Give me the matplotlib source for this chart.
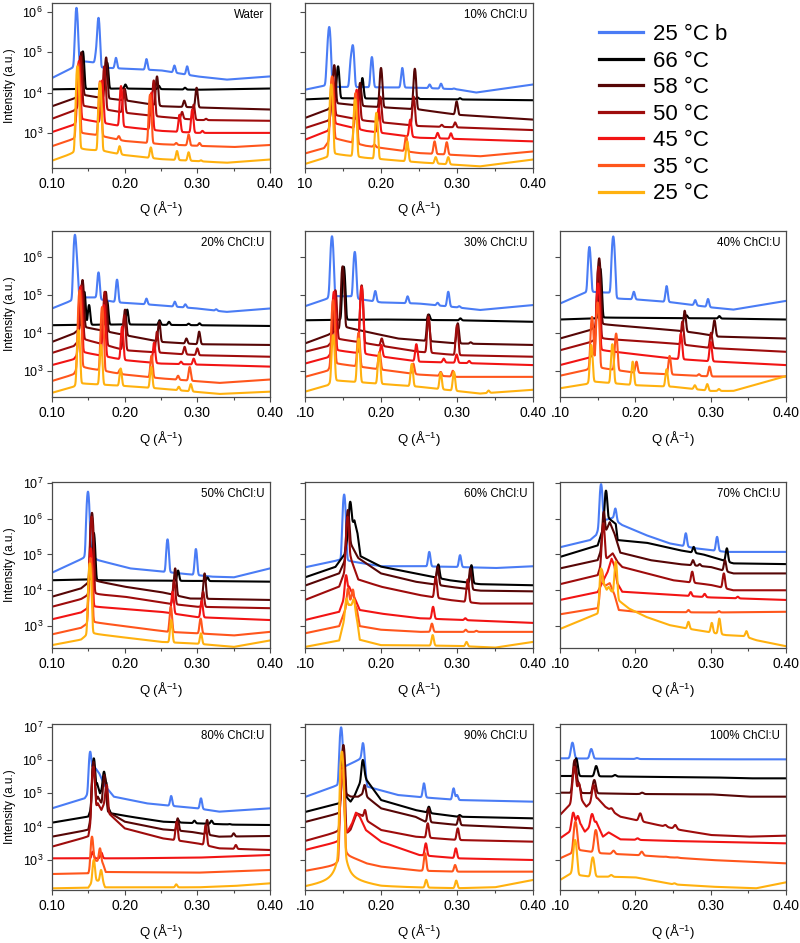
import numpy as np
import matplotlib
matplotlib.use("Agg")
import matplotlib.pyplot as plt
from matplotlib.lines import Line2D

plt.rcParams["font.family"] = ["Liberation Sans", "DejaVu Sans"]
plt.rcParams["mathtext.fontset"] = "custom"
plt.rcParams["mathtext.rm"] = "Liberation Sans"
plt.rcParams["mathtext.it"] = "Liberation Sans:italic"
plt.rcParams["mathtext.bf"] = "Liberation Sans:bold"

# series (top to bottom in every panel)
temps = ["25 °C b", "66 °C", "58 °C", "50 °C", "45 °C", "35 °C", "25 °C"]
colors = ["#4a7cf5", "#000000", "#560606", "#9e0c0c", "#f21414", "#ff561c", "#ffb10f"]

panel_names = ["Water", "10% ChCl:U", "20% ChCl:U", "30% ChCl:U", "40% ChCl:U", "50% ChCl:U",
               "60% ChCl:U", "70% ChCl:U", "80% ChCl:U", "90% ChCl:U", "100% ChCl:U"]

# baselines: (Q, log10 intensity) anchors; peaks: (Q, log10 peak top)
water_base = [
    [(0.10, 4.36), (0.128, 4.61), (0.133, 4.72), (0.14, 4.78), (0.16, 4.74), (0.166, 4.62), (0.25, 4.55), (0.30, 4.40), (0.34, 4.32), (0.40, 4.40)],
    [(0.10, 4.08), (0.20, 4.10), (0.30, 4.07), (0.40, 4.10)],
    [(0.10, 3.66), (0.13, 3.85), (0.14, 3.95), (0.16, 3.89), (0.207, 3.79), (0.252, 3.66), (0.32, 3.62), (0.40, 3.58)],
    [(0.10, 3.35), (0.13, 3.55), (0.139, 3.68), (0.16, 3.62), (0.20, 3.50), (0.25, 3.40), (0.30, 3.32), (0.40, 3.30)],
    [(0.10, 3.02), (0.13, 3.20), (0.138, 3.35), (0.16, 3.28), (0.20, 3.15), (0.25, 3.05), (0.30, 3.00), (0.40, 3.00)],
    [(0.10, 2.67), (0.13, 2.85), (0.137, 3.00), (0.16, 2.95), (0.20, 2.80), (0.25, 2.72), (0.30, 2.68), (0.35, 2.65), (0.40, 2.70)],
    [(0.10, 2.31), (0.13, 2.50), (0.136, 2.60), (0.17, 2.55), (0.20, 2.45), (0.25, 2.35), (0.30, 2.30), (0.34, 2.26), (0.40, 2.34)],
]
water_peaks = [
    [(0.1337, 6.10), (0.161, 5.00), (0.164, 5.85), (0.188, 4.86), (0.230, 4.83), (0.2685, 4.67), (0.282, 4.45), (0.286, 4.65)],
    [(0.1425, 5.02), (0.176, 4.74), (0.201, 4.20), (0.247, 4.17), (0.283, 4.12)],
    [(0.1405, 5.00), (0.1745, 4.87), (0.200, 4.10), (0.2445, 4.40), (0.282, 3.80), (0.299, 4.12)],
    [(0.139, 4.90), (0.172, 4.65), (0.199, 4.07), (0.240, 4.30), (0.279, 3.52), (0.295, 3.70), (0.312, 3.35)],
    [(0.137, 4.78), (0.169, 4.30), (0.195, 4.16), (0.237, 4.00), (0.2755, 3.45), (0.293, 3.58), (0.307, 3.05)],
    [(0.136, 4.70), (0.166, 4.28), (0.192, 2.92), (0.235, 3.95), (0.271, 2.75), (0.288, 2.96), (0.303, 2.75)],
    [(0.135, 4.65), (0.166, 4.24), (0.193, 2.67), (0.236, 2.64), (0.272, 2.55), (0.288, 2.52), (0.305, 2.32)],
]

chcl10_base = [
    [(0.10, 4.07), (0.126, 4.17), (0.135, 4.14), (0.25, 4.12), (0.30, 4.08), (0.325, 4.00), (0.40, 4.20)],
    [(0.10, 3.83), (0.14, 3.86), (0.20, 3.85), (0.30, 3.83), (0.40, 3.81)],
    [(0.10, 3.37), (0.13, 3.58), (0.139, 3.74), (0.18, 3.66), (0.25, 3.58), (0.30, 3.45), (0.40, 3.33)],
    [(0.10, 3.12), (0.13, 3.30), (0.137, 3.45), (0.18, 3.30), (0.25, 3.17), (0.40, 3.07)],
    [(0.10, 2.83), (0.13, 3.05), (0.136, 3.25), (0.18, 3.05), (0.25, 2.88), (0.40, 2.79)],
    [(0.10, 2.49), (0.125, 2.62), (0.135, 2.88), (0.18, 2.68), (0.25, 2.50), (0.33, 2.42), (0.40, 2.54)],
    [(0.10, 2.23), (0.13, 2.40), (0.134, 2.49), (0.18, 2.38), (0.25, 2.27), (0.33, 2.17), (0.40, 2.34)],
]
chcl10_peaks = [
    [(0.130, 4.95), (0.132, 5.60), (0.1605, 4.80), (0.163, 5.15), (0.188, 4.88), (0.228, 4.61), (0.264, 4.20), (0.279, 4.22), (0.296, 4.10)],
    [(0.1435, 4.65), (0.1755, 4.36), (0.248, 3.88), (0.304, 3.86)],
    [(0.1385, 4.68), (0.1725, 4.24), (0.200, 4.61), (0.2445, 4.59), (0.2995, 3.78)],
    [(0.137, 4.36), (0.171, 4.07), (0.199, 3.90), (0.243, 3.90), (0.280, 3.20), (0.2975, 3.26)],
    [(0.136, 4.39), (0.168, 4.07), (0.197, 3.60), (0.2385, 3.33), (0.2745, 3.00), (0.292, 2.99), (0.308, 2.84)],
    [(0.1355, 4.40), (0.1665, 3.99), (0.1915, 2.71), (0.233, 2.92), (0.2705, 2.79), (0.2865, 2.77)],
    [(0.1345, 4.20), (0.166, 3.83), (0.194, 3.50), (0.2345, 2.79), (0.272, 2.40), (0.2885, 2.40)],
]

chcl20_base = [
    [(0.10, 4.64), (0.129, 4.86), (0.134, 4.93), (0.16, 4.93), (0.166, 4.88), (0.19, 4.80), (0.23, 4.75), (0.30, 4.64), (0.34, 4.55), (0.40, 4.64)],
    [(0.10, 4.20), (0.20, 4.22), (0.30, 4.20), (0.40, 4.18)],
    [(0.10, 3.76), (0.13, 3.98), (0.142, 4.16), (0.20, 3.94), (0.25, 3.76), (0.30, 3.70), (0.40, 3.68)],
    [(0.10, 3.47), (0.13, 3.65), (0.14, 3.85), (0.20, 3.54), (0.30, 3.41), (0.40, 3.37)],
    [(0.10, 3.15), (0.13, 3.30), (0.139, 3.50), (0.20, 3.28), (0.25, 3.19), (0.40, 3.11)],
    [(0.10, 2.73), (0.13, 2.90), (0.138, 3.10), (0.20, 2.90), (0.25, 2.80), (0.33, 2.68), (0.40, 2.77)],
    [(0.10, 2.42), (0.13, 2.58), (0.1365, 2.67), (0.20, 2.60), (0.25, 2.53), (0.33, 2.39), (0.40, 2.45)],
]
chcl20_peaks = [
    [(0.1315, 6.57), (0.134, 5.82), (0.164, 5.59), (0.1895, 5.40), (0.230, 4.90), (0.269, 4.82), (0.2835, 4.75), (0.326, 4.62)],
    [(0.1445, 5.08), (0.151, 4.73), (0.176, 4.82), (0.2035, 4.61), (0.248, 4.33), (0.261, 4.29), (0.288, 4.24), (0.303, 4.25)],
    [(0.142, 5.39), (0.174, 5.08), (0.2005, 4.61), (0.2475, 4.29), (0.285, 3.85), (0.3025, 4.03)],
    [(0.1405, 5.25), (0.1725, 5.08), (0.1995, 4.46), (0.2445, 4.03), (0.2825, 3.63), (0.300, 3.59)],
    [(0.139, 5.21), (0.1715, 4.73), (0.1965, 4.16), (0.2405, 3.74), (0.2775, 3.24), (0.295, 3.32), (0.311, 3.15)],
    [(0.138, 5.12), (0.169, 4.68), (0.1935, 3.03), (0.237, 3.40), (0.2735, 2.87), (0.2895, 3.10)],
    [(0.1365, 4.07), (0.1675, 3.68), (0.1945, 3.06), (0.2365, 3.10), (0.2745, 2.58), (0.291, 2.65)],
]

chcl30_base = [
    [(0.10, 4.70), (0.130, 4.90), (0.136, 4.96), (0.16, 4.96), (0.167, 4.90), (0.20, 4.80), (0.25, 4.77), (0.30, 4.67), (0.33, 4.60), (0.40, 4.73)],
    [(0.10, 4.33), (0.20, 4.35), (0.30, 4.33), (0.40, 4.29)],
    [(0.10, 3.72), (0.13, 3.94), (0.15, 4.16), (0.222, 3.85), (0.30, 3.72), (0.40, 3.68)],
    [(0.10, 3.50), (0.13, 3.65), (0.14, 3.85), (0.25, 3.50), (0.30, 3.41), (0.40, 3.37)],
    [(0.10, 3.19), (0.13, 3.35), (0.138, 3.55), (0.25, 3.24), (0.40, 3.15)],
    [(0.10, 2.84), (0.13, 3.00), (0.137, 3.20), (0.25, 2.90), (0.30, 2.84), (0.40, 2.84)],
    [(0.10, 2.45), (0.13, 2.62), (0.137, 2.75), (0.25, 2.58), (0.33, 2.40), (0.40, 2.50)],
]
chcl30_peaks = [
    [(0.133, 5.10), (0.1355, 6.54), (0.1655, 6.13), (0.1925, 5.10), (0.235, 4.96), (0.2745, 4.79), (0.2885, 5.08), (0.303, 4.70)],
    [(0.151, 5.74), (0.263, 4.48), (0.3045, 4.38)],
    [(0.1495, 5.75), (0.262, 4.48), (0.301, 4.25), (0.318, 3.75)],
    [(0.140, 5.12), (0.1745, 5.25), (0.201, 3.85), (0.2625, 4.42), (0.300, 4.20)],
    [(0.138, 5.08), (0.1745, 5.21), (0.2005, 3.68), (0.2465, 3.70), (0.2825, 3.32), (0.2995, 3.43), (0.316, 3.26)],
    [(0.137, 4.86), (0.1705, 4.00), (0.198, 3.50), (0.2425, 3.19), (0.2785, 2.97), (0.2945, 3.00)],
    [(0.137, 3.94), (0.1705, 3.85), (0.1975, 3.46), (0.2405, 3.18), (0.2785, 2.95), (0.296, 2.97), (0.3415, 2.48)],
]

chcl40_base = [
    [(0.10, 4.77), (0.136, 5.08), (0.14, 5.08), (0.168, 5.05), (0.172, 4.90), (0.20, 4.88), (0.25, 4.80), (0.30, 4.67), (0.33, 4.61), (0.40, 4.84)],
    [(0.10, 4.35), (0.15, 4.38), (0.16, 4.40), (0.30, 4.38), (0.40, 4.35)],
    [(0.10, 3.85), (0.14, 4.07), (0.153, 4.23), (0.25, 4.07), (0.28, 4.00), (0.31, 3.90), (0.40, 3.85)],
    [(0.10, 3.54), (0.14, 3.75), (0.152, 3.85), (0.25, 3.72), (0.30, 3.60), (0.40, 3.50)],
    [(0.10, 3.15), (0.14, 3.35), (0.151, 3.55), (0.25, 3.32), (0.30, 3.25), (0.40, 3.15)],
    [(0.10, 2.87), (0.135, 3.02), (0.143, 3.10), (0.20, 2.95), (0.25, 2.90), (0.30, 2.85), (0.40, 2.85)],
    [(0.10, 2.54), (0.135, 2.65), (0.142, 2.72), (0.20, 2.62), (0.25, 2.58), (0.30, 2.47), (0.33, 2.47), (0.40, 2.86)],
]
chcl40_peaks = [
    [(0.139, 6.26), (0.1705, 6.46), (0.1715, 5.90), (0.198, 5.08), (0.2415, 5.23), (0.2795, 4.86), (0.2965, 4.89)],
    [(0.1535, 5.69), (0.268, 4.46), (0.3115, 4.44)],
    [(0.152, 5.96), (0.2655, 4.58), (0.305, 4.33)],
    [(0.151, 5.74), (0.2625, 4.30), (0.3005, 4.00)],
    [(0.1505, 5.30), (0.2605, 3.98), (0.300, 3.76)],
    [(0.1425, 4.42), (0.150, 4.80), (0.1745, 3.98), (0.2015, 3.24), (0.2455, 3.39), (0.2845, 2.91), (0.2985, 3.11)],
    [(0.1415, 3.68), (0.1695, 3.70), (0.1965, 3.24), (0.2415, 3.04), (0.279, 2.62), (0.2955, 2.65), (0.311, 2.52)],
]

chcl50_base = [
    [(0.10, 4.49), (0.143, 4.89), (0.1495, 5.00), (0.163, 4.84), (0.2075, 4.61), (0.252, 4.52), (0.32, 4.38), (0.35, 4.36), (0.40, 4.61)],
    [(0.10, 4.28), (0.15, 4.30), (0.16, 4.28), (0.30, 4.26), (0.40, 4.24)],
    [(0.10, 3.82), (0.14, 4.05), (0.155, 4.28), (0.20, 4.10), (0.25, 3.95), (0.29, 3.77), (0.40, 3.73)],
    [(0.10, 3.54), (0.14, 3.75), (0.1545, 3.90), (0.20, 3.82), (0.26, 3.63), (0.30, 3.54), (0.40, 3.50)],
    [(0.10, 3.19), (0.14, 3.38), (0.1535, 3.55), (0.25, 3.40), (0.30, 3.25), (0.40, 3.17)],
    [(0.10, 2.77), (0.14, 2.95), (0.153, 3.12), (0.26, 2.84), (0.30, 2.80), (0.35, 2.74), (0.40, 2.84)],
    [(0.10, 2.47), (0.14, 2.62), (0.152, 2.80), (0.25, 2.56), (0.30, 2.51), (0.35, 2.42), (0.40, 2.60)],
]
chcl50_peaks = [
    [(0.1495, 6.75), (0.259, 5.42), (0.298, 5.15)],
    [(0.1575, 5.60), (0.2735, 4.55), (0.314, 4.36)],
    [(0.155, 6.16), (0.2695, 4.61), (0.310, 4.47)],
    [(0.1545, 6.05), (0.268, 4.28), (0.308, 3.96)],
    [(0.1535, 5.17), (0.266, 3.96), (0.306, 3.71)],
    [(0.153, 4.90), (0.2635, 3.54), (0.3045, 3.21)],
    [(0.152, 4.75), (0.264, 3.17), (0.305, 2.80)],
]

chcl60_base = [
    [(0.10, 4.64), (0.145, 4.84), (0.153, 4.83), (0.20, 4.67), (0.25, 4.67), (0.30, 4.65), (0.35, 4.62), (0.40, 4.67)],
    [(0.10, 4.36), (0.14, 4.65), (0.152, 5.00), (0.158, 5.70), (0.165, 5.95), (0.169, 5.60), (0.173, 4.95), (0.20, 4.66), (0.245, 4.47), (0.29, 4.28), (0.33, 4.17), (0.40, 4.14)],
    [(0.10, 4.13), (0.145, 4.47), (0.152, 4.80), (0.16, 5.30), (0.17, 4.90), (0.20, 4.47), (0.245, 4.24), (0.29, 4.10), (0.33, 3.99), (0.40, 3.97)],
    [(0.10, 3.73), (0.145, 4.10), (0.152, 4.50), (0.16, 4.90), (0.17, 4.30), (0.20, 4.10), (0.25, 3.87), (0.29, 3.73), (0.33, 3.63), (0.40, 3.63)],
    [(0.10, 3.17), (0.145, 3.40), (0.152, 3.80), (0.158, 4.10), (0.165, 3.80), (0.172, 3.45), (0.20, 3.35), (0.25, 3.22), (0.40, 3.09)],
    [(0.10, 2.80), (0.145, 3.00), (0.152, 3.40), (0.16, 3.70), (0.168, 3.50), (0.172, 3.00), (0.20, 2.90), (0.25, 2.84), (0.40, 2.84)],
    [(0.10, 2.42), (0.145, 2.60), (0.152, 3.20), (0.158, 3.60), (0.165, 3.55), (0.169, 3.10), (0.172, 2.62), (0.20, 2.47), (0.30, 2.45), (0.35, 2.40), (0.40, 2.56)],
]
chcl60_peaks = [
    [(0.1515, 6.67), (0.2635, 5.07), (0.304, 4.98)],
    [(0.1595, 6.47), (0.2755, 4.72), (0.319, 4.70)],
    [(0.1565, 6.24), (0.2745, 4.66), (0.3175, 4.61)],
    [(0.156, 6.05), (0.272, 4.38), (0.314, 4.30)],
    [(0.154, 4.42), (0.2685, 3.54), (0.311, 3.22)],
    [(0.1565, 4.05), (0.163, 4.02), (0.267, 3.07), (0.3115, 2.90), (0.3255, 2.87)],
    [(0.1545, 3.77), (0.164, 3.75), (0.268, 2.75), (0.3125, 2.56)],
]

chcl70_base = [
    [(0.10, 5.20), (0.14, 5.40), (0.148, 5.54), (0.152, 5.75), (0.16, 5.96), (0.17, 6.02), (0.177, 5.90), (0.1825, 5.82), (0.214, 5.54), (0.245, 5.31), (0.28, 5.17), (0.32, 5.07), (0.40, 5.07)],
    [(0.10, 4.93), (0.15, 5.25), (0.157, 5.70), (0.165, 6.00), (0.174, 5.85), (0.1765, 5.40), (0.214, 5.33), (0.258, 5.12), (0.29, 5.00), (0.33, 4.75), (0.40, 4.73)],
    [(0.10, 4.61), (0.15, 4.84), (0.156, 5.20), (0.162, 5.70), (0.166, 5.90), (0.172, 5.60), (0.18, 5.05), (0.22, 4.84), (0.258, 4.73), (0.30, 4.65), (0.33, 4.47), (0.40, 4.47)],
    [(0.10, 4.17), (0.15, 4.42), (0.156, 4.80), (0.163, 4.90), (0.17, 5.03), (0.176, 4.80), (0.1825, 4.65), (0.25, 4.28), (0.30, 4.15), (0.33, 4.00), (0.40, 4.00)],
    [(0.10, 3.73), (0.15, 3.95), (0.158, 4.30), (0.163, 4.50), (0.1685, 4.88), (0.172, 4.70), (0.176, 4.20), (0.1825, 3.96), (0.25, 3.87), (0.30, 3.80), (0.40, 3.73)],
    [(0.10, 3.33), (0.15, 3.50), (0.153, 3.80), (0.158, 4.10), (0.166, 4.20), (0.172, 3.90), (0.178, 3.45), (0.20, 3.40), (0.30, 3.38), (0.40, 3.40)],
    [(0.10, 2.92), (0.15, 3.35), (0.152, 3.45), (0.158, 4.20), (0.162, 4.00), (0.166, 4.00), (0.170, 3.95), (0.177, 3.73), (0.1915, 3.49), (0.214, 3.26), (0.245, 3.03), (0.267, 2.94), (0.29, 2.86), (0.32, 2.75), (0.345, 2.72), (0.36, 2.61), (0.40, 2.44)],
]
chcl70_peaks = [
    [(0.1545, 6.96), (0.1735, 6.28), (0.267, 5.59), (0.3085, 5.49)],
    [(0.161, 6.78), (0.2775, 5.21), (0.3215, 5.17)],
    [(0.158, 6.19), (0.2765, 4.84), (0.2855, 4.73), (0.319, 4.84)],
    [(0.1575, 5.87), (0.2755, 4.52), (0.3175, 4.47)],
    [(0.2735, 3.95), (0.292, 3.90), (0.336, 3.82)],
    [(0.1555, 4.56), (0.2705, 3.45), (0.311, 3.42)],
    [(0.1545, 4.61), (0.1645, 4.09), (0.174, 4.80), (0.2705, 3.12), (0.3015, 3.09), (0.3115, 3.21), (0.3475, 2.86)],
]

chcl80_base = [
    [(0.10, 4.55), (0.145, 4.85), (0.15, 5.00), (0.156, 5.80), (0.16, 5.75), (0.165, 5.60), (0.172, 5.25), (0.185, 4.90), (0.23, 4.70), (0.252, 4.65), (0.30, 4.55), (0.33, 4.45), (0.40, 4.55)],
    [(0.10, 4.12), (0.15, 4.30), (0.155, 4.60), (0.162, 5.30), (0.166, 5.00), (0.171, 5.20), (0.175, 5.30), (0.177, 4.60), (0.181, 4.40), (0.2075, 4.30), (0.252, 4.15), (0.30, 4.10), (0.35, 4.06), (0.40, 4.05)],
    [(0.10, 3.70), (0.15, 3.90), (0.155, 4.40), (0.163, 4.90), (0.168, 4.70), (0.174, 4.90), (0.177, 4.45), (0.20, 4.15), (0.252, 3.92), (0.29, 3.85), (0.33, 3.70), (0.40, 3.72)],
    [(0.10, 3.40), (0.15, 3.70), (0.155, 4.30), (0.163, 4.70), (0.168, 4.50), (0.176, 4.90), (0.178, 4.40), (0.20, 3.95), (0.252, 3.65), (0.30, 3.50), (0.33, 3.35), (0.40, 3.30)],
    [(0.10, 3.05), (0.20, 3.05), (0.30, 3.07), (0.40, 3.15)],
    [(0.10, 2.58), (0.15, 2.60), (0.158, 3.00), (0.17, 2.90), (0.174, 2.64), (0.30, 2.62), (0.40, 2.70)],
    [(0.10, 2.15), (0.15, 2.17), (0.157, 2.40), (0.17, 2.35), (0.173, 2.18), (0.30, 2.18), (0.35, 2.22), (0.40, 2.30)],
]
chcl80_peaks = [
    [(0.1525, 6.25), (0.264, 4.92), (0.305, 4.85)],
    [(0.1575, 6.05), (0.1715, 5.65), (0.2735, 4.20), (0.296, 4.18), (0.3195, 4.18), (0.344, 4.08)],
    [(0.157, 5.95), (0.172, 5.55), (0.273, 4.25), (0.3135, 4.20), (0.35, 3.80)],
    [(0.157, 5.80), (0.175, 5.25), (0.2715, 4.15), (0.3115, 4.05), (0.353, 3.45)],
    [(0.156, 3.25), (0.168, 3.22)],
    [(0.155, 3.70), (0.166, 3.35)],
    [(0.1575, 3.00), (0.1675, 2.70), (0.271, 2.27)],
]

chcl90_base = [
    [(0.10, 4.89), (0.144, 5.25), (0.148, 5.50), (0.152, 5.80), (0.17, 6.00), (0.176, 6.10), (0.1795, 5.60), (0.182, 5.20), (0.222, 4.95), (0.245, 4.90), (0.30, 4.80), (0.40, 4.75)],
    [(0.10, 4.44), (0.145, 4.70), (0.152, 4.95), (0.16, 4.75), (0.165, 4.92), (0.174, 5.40), (0.178, 5.60), (0.181, 5.40), (0.20, 4.80), (0.245, 4.50), (0.267, 4.40), (0.30, 4.30), (0.40, 4.25)],
    [(0.10, 4.14), (0.145, 4.40), (0.152, 4.75), (0.156, 4.95), (0.160, 4.90), (0.17, 4.90), (0.177, 5.00), (0.181, 4.90), (0.20, 4.55), (0.245, 4.30), (0.258, 4.15), (0.30, 4.05), (0.40, 3.95)],
    [(0.10, 3.57), (0.145, 3.85), (0.152, 4.00), (0.155, 3.75), (0.16, 3.90), (0.168, 4.40), (0.174, 4.35), (0.18, 4.20), (0.20, 3.90), (0.245, 3.70), (0.30, 3.60), (0.40, 3.55)],
    [(0.10, 3.30), (0.145, 3.55), (0.152, 3.75), (0.156, 3.85), (0.162, 4.10), (0.167, 4.42), (0.172, 4.30), (0.18, 3.90), (0.20, 3.55), (0.25, 3.15), (0.30, 3.05), (0.40, 3.00)],
    [(0.10, 2.67), (0.145, 2.85), (0.152, 3.20), (0.158, 3.10), (0.17, 3.00), (0.18, 2.90), (0.20, 2.80), (0.25, 2.68), (0.30, 2.65), (0.40, 2.65)],
    [(0.10, 2.18), (0.145, 2.35), (0.148, 2.50), (0.153, 2.45), (0.16, 2.35), (0.20, 2.20), (0.25, 2.17), (0.30, 2.15), (0.35, 2.18), (0.40, 2.40)],
]
chcl90_peaks = [
    [(0.1475, 6.98), (0.1765, 6.50), (0.2565, 5.30), (0.2955, 5.15), (0.300, 4.95)],
    [(0.1505, 6.00), (0.176, 6.00), (0.263, 4.60), (0.3035, 4.35)],
    [(0.1505, 6.45), (0.1785, 5.25), (0.2625, 4.55), (0.3025, 4.30)],
    [(0.1495, 6.25), (0.179, 4.50), (0.2615, 4.10), (0.301, 3.95)],
    [(0.149, 5.80), (0.259, 3.50), (0.2985, 3.35)],
    [(0.149, 5.70), (0.258, 3.20), (0.2975, 2.85)],
    [(0.1485, 6.25), (0.2595, 2.40), (0.299, 2.38)],
]

chcl100_base = [
    [(0.10, 6.05), (0.20, 6.03), (0.30, 6.02), (0.40, 6.02)],
    [(0.10, 5.52), (0.20, 5.50), (0.30, 5.48), (0.35, 5.45), (0.40, 5.45)],
    [(0.10, 5.02), (0.20, 4.98), (0.30, 4.97), (0.35, 4.90), (0.40, 4.90)],
    [(0.10, 4.35), (0.115, 4.70), (0.13, 4.75), (0.135, 4.60), (0.14, 4.70), (0.15, 4.85), (0.16, 4.60), (0.18, 4.30), (0.19, 4.25), (0.22, 4.10), (0.26, 3.90), (0.30, 3.75), (0.35, 3.70), (0.40, 3.73)],
    [(0.10, 3.65), (0.113, 3.85), (0.12, 4.00), (0.128, 4.05), (0.133, 3.85), (0.14, 4.00), (0.148, 4.15), (0.157, 3.70), (0.1645, 3.83), (0.18, 3.62), (0.25, 3.57), (0.40, 3.50)],
    [(0.10, 3.05), (0.115, 3.20), (0.125, 3.30), (0.14, 3.25), (0.155, 3.20), (0.20, 3.15), (0.30, 3.00), (0.40, 2.90)],
    [(0.10, 2.40), (0.115, 2.60), (0.123, 2.55), (0.14, 2.50), (0.16, 2.50), (0.20, 2.48), (0.25, 2.27), (0.30, 2.20), (0.36, 2.15), (0.40, 2.33)],
]
chcl100_peaks = [
    [(0.1165, 6.52), (0.1415, 6.33), (0.202, 6.06)],
    [(0.1215, 6.05), (0.148, 5.82), (0.173, 5.55)],
    [(0.1195, 6.00), (0.1245, 5.30), (0.1455, 5.40), (0.209, 5.02)],
    [(0.119, 5.80), (0.125, 5.30), (0.1445, 5.25), (0.1685, 4.55), (0.2065, 4.40), (0.240, 4.05), (0.253, 4.05)],
    [(0.1175, 4.42), (0.1235, 4.32), (0.1425, 4.38), (0.203, 3.65)],
    [(0.1205, 4.15), (0.1475, 3.90), (0.171, 3.28), (0.2085, 3.25), (0.24, 3.10), (0.255, 3.08)],
    [(0.120, 3.60), (0.1435, 3.08), (0.168, 2.55), (0.206, 2.45), (0.252, 2.30)],
]

panel_data = [
    (water_base, water_peaks), (chcl10_base, chcl10_peaks),
    (chcl20_base, chcl20_peaks), (chcl30_base, chcl30_peaks), (chcl40_base, chcl40_peaks),
    (chcl50_base, chcl50_peaks), (chcl60_base, chcl60_peaks), (chcl70_base, chcl70_peaks),
    (chcl80_base, chcl80_peaks), (chcl90_base, chcl90_peaks), (chcl100_base, chcl100_peaks),
]

q = np.linspace(0.10, 0.40, 3001)


def spectrum(base, peaks, sigma):
    bq = [p[0] for p in base]
    bl = [p[1] for p in base]
    y = 10 ** np.interp(q, bq, bl)
    for qp, lh in peaks:
        amp = 10 ** lh - 10 ** np.interp(qp, bq, bl)
        if amp <= 0:
            continue
        d = q - qp
        # mostly gaussian line shape with a faint lorentzian foot
        shape = 0.99 * np.exp(-0.5 * (d / sigma) ** 2) + 0.01 * sigma ** 2 / (sigma ** 2 + d ** 2)
        y = y + amp * shape
    return y


# layout in pixels (figure is 800 x 943)
W, H = 800, 943
col_x = [(52, 270), (305, 533), (560, 786)]
row_y = [(3, 168), (231, 397), (482, 648), (724, 890)]
row_ylim = [(2.13, 6.22), (2.31, 6.68), (2.39, 7.02), (2.10, 7.08)]
slots = [(0, 0), (0, 1), (1, 0), (1, 1), (1, 2), (2, 0), (2, 1), (2, 2), (3, 0), (3, 1), (3, 2)]
widths = [0.0013] * 10 + [0.0017]

fig = plt.figure(figsize=(W / 100, H / 100), dpi=100)
spine_col = "#4a4a4a"

for name, (base, peaks), (r, c), sig in zip(panel_names, panel_data, slots, widths):
    x0, x1 = col_x[c]
    y0, y1 = row_y[r]
    ax = fig.add_axes([x0 / W, 1 - y1 / H, (x1 - x0) / W, (y1 - y0) / H])
    for i in range(7):
        ax.plot(q, spectrum(base[i], peaks[i], sig), color=colors[i], lw=1.5, solid_joinstyle="round")
    lo, hi = row_ylim[r]
    ax.set_yscale("log")
    ax.set_ylim(10 ** lo, 10 ** hi)
    ax.set_xlim(0.10, 0.40)
    exps = [e for e in range(2, 8) if lo <= e <= hi]
    ax.set_yticks([10.0 ** e for e in exps])
    ax.yaxis.set_minor_locator(matplotlib.ticker.NullLocator())
    if c == 0:
        ax.set_yticklabels([f"$10^{{{e}}}$" for e in exps], fontsize=9)
        ax.set_ylabel("Intensity (a.u.)", fontsize=8.5)
        ax.yaxis.set_label_coords(-0.165, 0.5)
    else:
        ax.set_yticklabels([])
    ax.set_xticks([0.10, 0.20, 0.30, 0.40])
    ax.set_xticks([0.15, 0.25, 0.35], minor=True)
    first = "0.10" if c == 0 else ("10" if r == 0 else ".10")
    ax.set_xticklabels([first, "0.20", "0.30", "0.40"], fontsize=10)
    ax.set_xlabel("Q (Å$^{-1}$)", fontsize=9.5)
    ax.xaxis.set_label_coords(0.5, -0.19)
    ax.tick_params(which="major", direction="out", length=3.5, width=0.8, color=spine_col, pad=3)
    ax.tick_params(which="minor", direction="out", length=2.5, width=0.8, color=spine_col)
    for s in ax.spines.values():
        s.set_color(spine_col)
        s.set_linewidth(0.9)
    ax.text(0.974, 0.928, name, transform=ax.transAxes, ha="right", va="center", fontsize=8.3)

handles = [Line2D([], [], color=col, lw=2.3) for col in colors]
fig.legend(handles, temps, loc="upper left", bbox_to_anchor=(599 / W, 1 - 24 / H),
           frameon=False, fontsize=16, handlelength=2.0, handletextpad=0.45,
           labelspacing=0.25, borderpad=0, borderaxespad=0)

fig.savefig("out.png", dpi=100)
